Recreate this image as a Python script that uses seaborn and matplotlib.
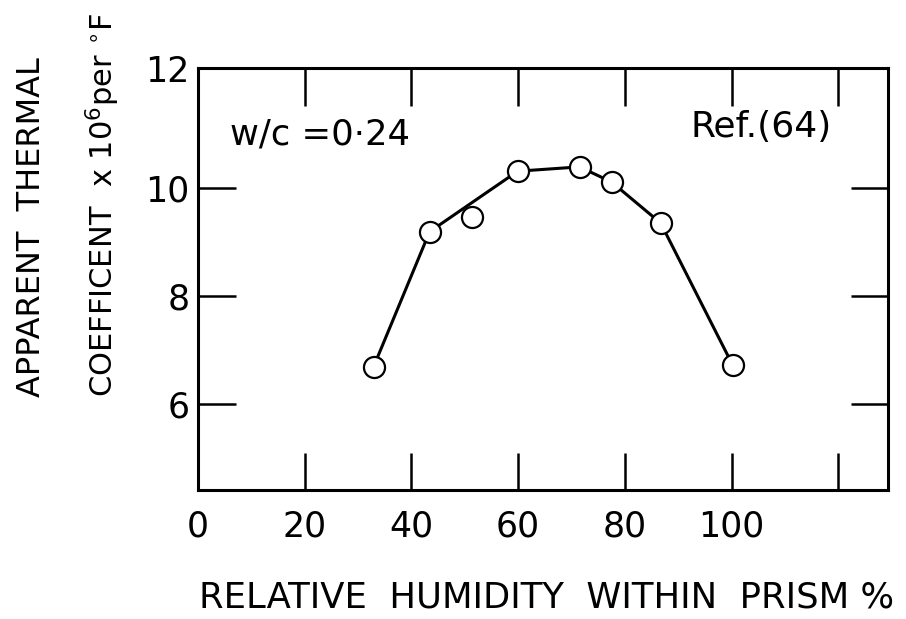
import matplotlib
matplotlib.use("Agg")
import matplotlib.pyplot as plt
import seaborn as sns
import pandas as pd

# ---- data ----
humidity = [32.9, 43.4, 51.3, 59.9, 71.5, 77.5, 86.7, 100.2]
coefficient = [6.69, 9.19, 9.46, 10.31, 10.39, 10.11, 9.35, 6.72]
# hand-drawn curve vertices (the curve passes above the 51 % point)
curve_x = [32.9, 43.4, 59.9, 71.5, 77.5, 86.7, 100.2]
curve_y = [6.69, 9.19, 10.31, 10.39, 10.11, 9.35, 6.72]

xticks = [0, 20, 40, 60, 80, 100, 120]
xticklabels = ["0", "20", "40", "60", "80", "100", ""]
yticks = [6, 8, 10, 12]
yticklabels = ["6", "8", "10", "12"]

sns.set_style("white")
plt.rcParams["font.family"] = ["DejaVu Sans"]
plt.rcParams["text.color"] = "black"

W, H = 906, 619
fig = plt.figure(figsize=(W / 100, H / 100), dpi=100)
ax = fig.add_axes([198 / W, 1 - 490 / H, (888 - 198) / W, (490 - 68) / H])

pts = pd.DataFrame({"rh": humidity, "coef": coefficient})
curve = pd.DataFrame({"rh": curve_x, "coef": curve_y})

sns.lineplot(data=curve, x="rh", y="coef", ax=ax, color="black", lw=2.2,
             sort=False, zorder=2)
sns.scatterplot(data=pts, x="rh", y="coef", ax=ax, s=230, facecolor="white",
                edgecolor="black", linewidth=1.6, zorder=3)

ax.set_xlim(0, 129.3)
ylo, yhi = 4.41, 12.22
ax.set_ylim(ylo, yhi)

ax.set_xticks(xticks)
ax.set_xticklabels(xticklabels)
ytick_pos = [v if v != 12 else yhi for v in yticks]
ax.set_yticks(ytick_pos)
ax.set_yticklabels(yticklabels)

ax.tick_params(axis="both", direction="in", length=27, width=1.8,
               top=True, right=True, bottom=True, left=True,
               colors="black", labelcolor="black", labelsize=25)
ax.tick_params(axis="x", pad=14)
ax.tick_params(axis="y", pad=6)
for s in ax.spines.values():
    s.set_visible(True)
    s.set_linewidth(2.2)
    s.set_color("black")

ax.set_xlabel("")
ax.set_ylabel("")

fig.text(0.5 * (197 + 897) / W, 1 - 597 / H,
         "RELATIVE  HUMIDITY  WITHIN  PRISM %", ha="center", va="center",
         fontsize=25.5)
fig.text(32 / W, 1 - 397 / H, "APPARENT  THERMAL", rotation=90,
         ha="center", va="bottom", fontsize=23)
fig.text(103 / W, 1 - 397 / H,
         r"COEFFICENT  x 10$^{6}$per $^{\circ}$F", rotation=90,
         ha="center", va="bottom", fontsize=22)

fig.text(230 / W, 1 - 135 / H, "w/c =0·24", fontsize=25.5, va="center",
         ha="left")
fig.text(832 / W, 1 - 127 / H, "Ref.(64)", fontsize=26, va="center",
         ha="right")

fig.savefig("out.png", dpi=100, facecolor="white")
